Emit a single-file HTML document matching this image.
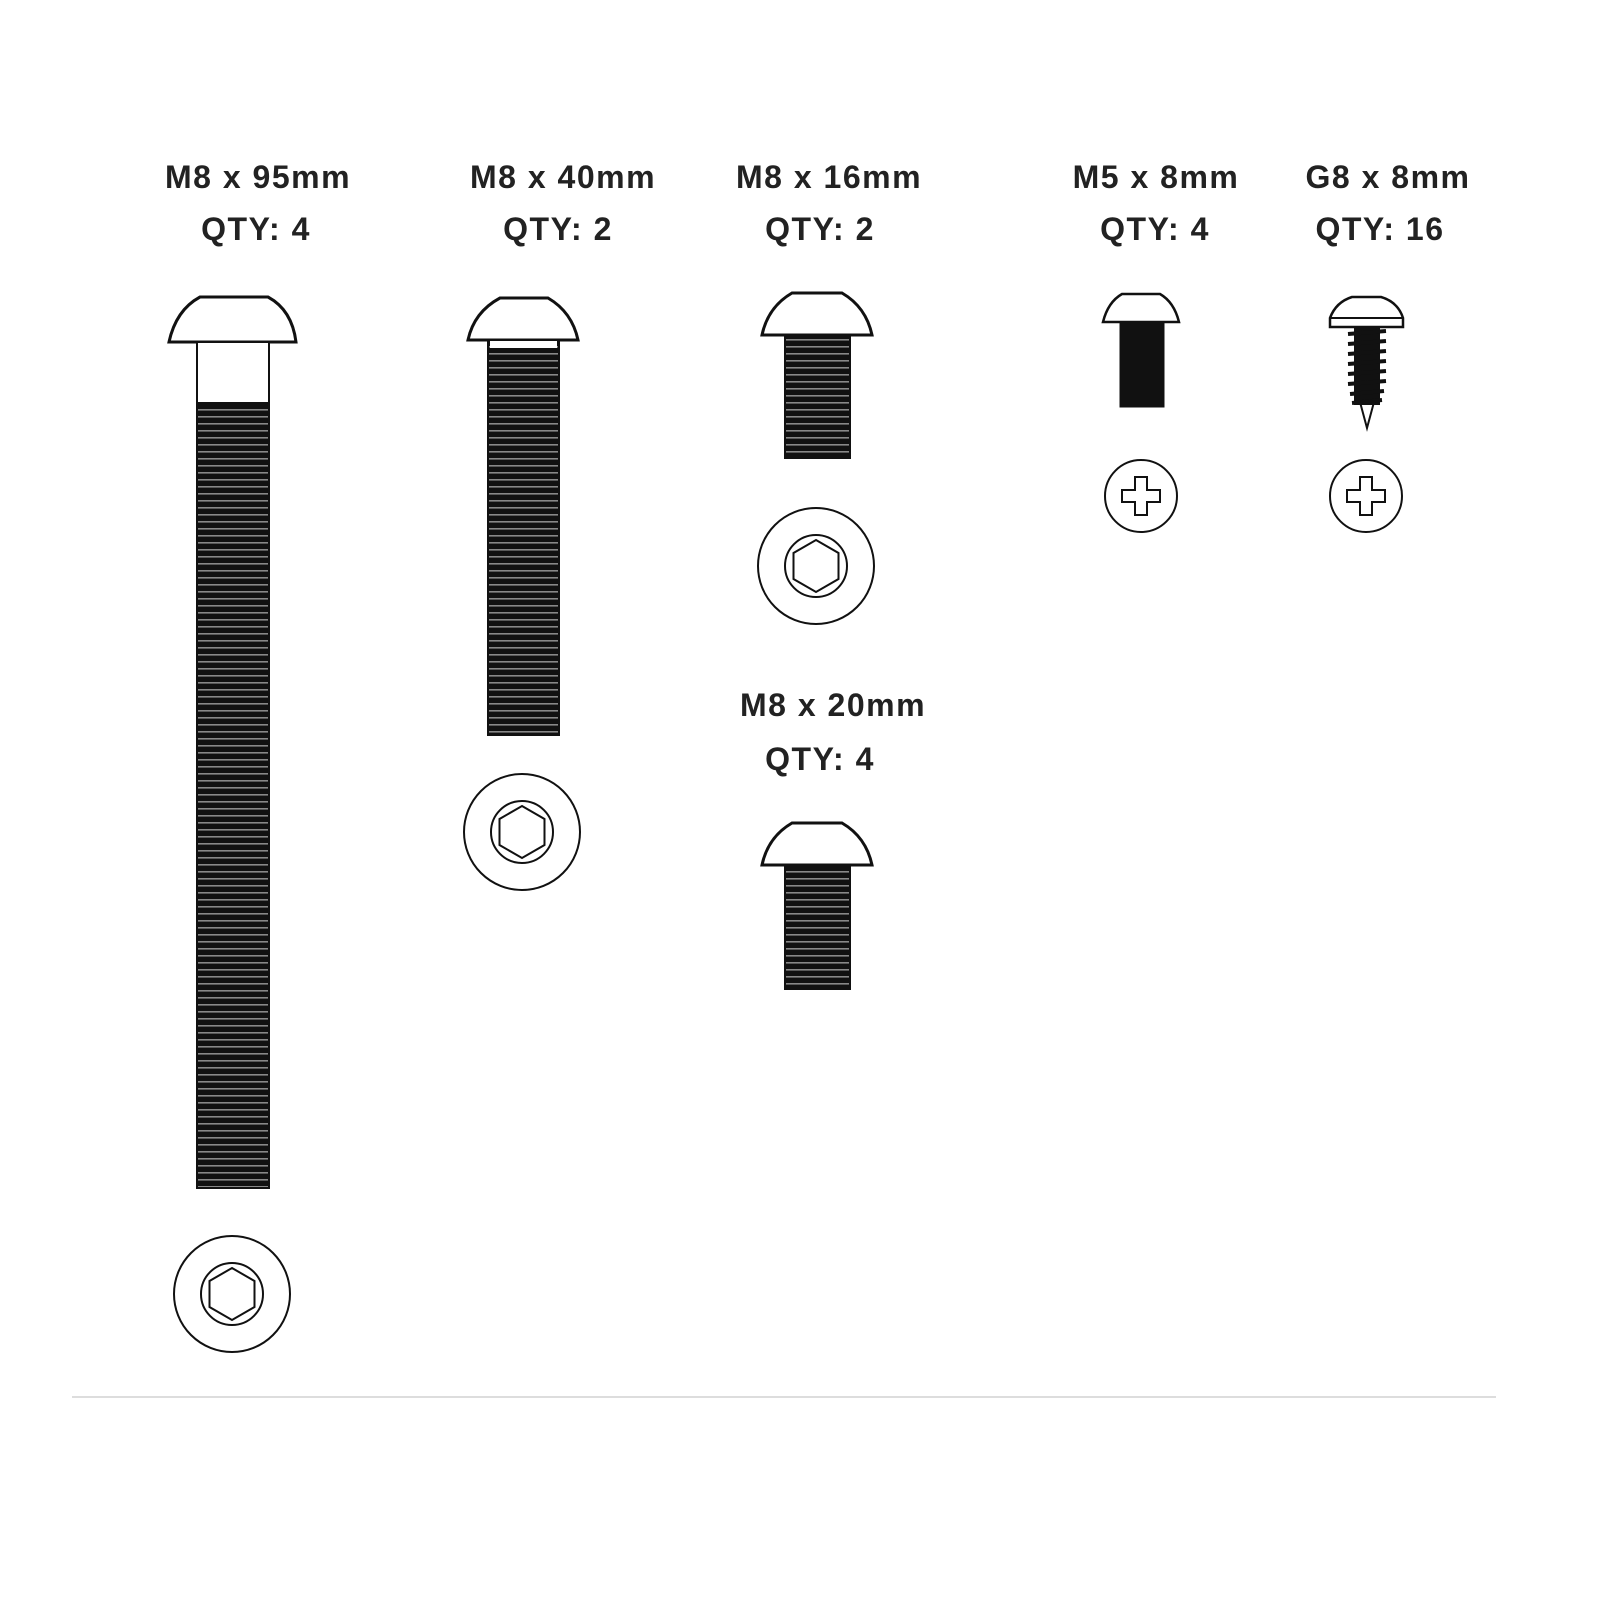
<!DOCTYPE html>
<html><head><meta charset="utf-8"><style>
html,body{margin:0;padding:0;background:#fff;width:1600px;height:1600px;overflow:hidden}
text{font-family:"Liberation Sans",sans-serif;font-weight:bold;font-size:32px;letter-spacing:1.5px;fill:#222;text-anchor:middle}
</style></head><body>
<svg width="1600" height="1600" viewBox="0 0 1600 1600" xmlns="http://www.w3.org/2000/svg">
<defs>
<pattern id="th" width="10" height="7" patternUnits="userSpaceOnUse">
<rect width="10" height="7" fill="#111"/>
<rect y="3" width="10" height="1.6" fill="#888"/>
</pattern>
<g id="hexhead" fill="none" stroke="#111" stroke-width="2">
<circle r="58"/><circle r="31"/>
<polygon points="0,-26 22.5,-13 22.5,13 0,26 -22.5,13 -22.5,-13"/>
</g>
</defs>
<g>
<text x="258" y="188">M8 x 95mm</text><text x="256" y="240">QTY: 4</text>
<text x="563" y="188">M8 x 40mm</text><text x="558" y="240">QTY: 2</text>
<text x="829" y="188">M8 x 16mm</text><text x="820" y="240">QTY: 2</text>
<text x="1156" y="188">M5 x 8mm</text><text x="1155" y="240">QTY: 4</text>
<text x="1388" y="188">G8 x 8mm</text><text x="1380" y="240">QTY: 16</text>
<text x="833" y="716">M8 x 20mm</text><text x="820" y="770">QTY: 4</text>
</g>
<g stroke="#111" stroke-width="3" fill="#fff">
<path d="M169,342 Q176,310 200,297 L268,297 Q292,310 296,342 Z"/>
<rect x="197" y="342" width="72" height="62" stroke-width="2"/>
<rect x="197" y="403" width="72" height="785" fill="url(#th)" stroke-width="2"/>
<path d="M468,340 Q474,312 500,298 L548,298 Q572,312 578,340 Z"/>
<rect x="488" y="340" width="71" height="395" fill="url(#th)" stroke-width="2"/>
<rect x="490" y="341" width="67" height="7" fill="#fff" stroke="none"/>
<path d="M762,335 Q768,307 792,293 L842,293 Q866,307 872,335 Z"/>
<rect x="785" y="335" width="65" height="123" fill="url(#th)" stroke-width="2"/>
<path d="M762,865 Q768,837 792,823 L842,823 Q866,837 872,865 Z"/>
<rect x="785" y="865" width="65" height="124" fill="url(#th)" stroke-width="2"/>
<path d="M1103,322 Q1108,302 1122,294 L1160,294 Q1174,302 1179,322 Z" stroke-width="2.5"/>
<rect x="1120" y="322" width="44" height="85" fill="#111" stroke-width="1"/>
<path d="M1330,318 Q1336,302 1352,297 L1381,297 Q1398,302 1403,318 L1403,327 L1330,327 Z" stroke-width="2.5"/>
<line x1="1330" y1="318" x2="1403" y2="318" stroke-width="2"/>
<path d="M1360,402 L1374,402 L1367,428 Z" stroke-width="2"/>
<rect x="1354" y="327" width="26" height="78" fill="#111" stroke="none"/>
</g>
<g stroke="#111" stroke-width="4">
<line x1="1348" y1="334" x2="1386" y2="331"/><line x1="1348" y1="344" x2="1386" y2="341"/>
<line x1="1348" y1="354" x2="1386" y2="351"/><line x1="1348" y1="364" x2="1386" y2="361"/>
<line x1="1348" y1="374" x2="1386" y2="371"/><line x1="1348" y1="384" x2="1386" y2="381"/>
<line x1="1350" y1="394" x2="1384" y2="391"/><line x1="1352" y1="403" x2="1382" y2="400"/>
</g>
<use href="#hexhead" x="232" y="1294"/>
<use href="#hexhead" x="522" y="832"/>
<use href="#hexhead" x="816" y="566"/>
<g fill="none" stroke="#111" stroke-width="2">
<circle cx="1141" cy="496" r="36"/><circle cx="1366" cy="496" r="36"/>
<path d="M1135,477 h12 v13 h13 v12 h-13 v13 h-12 v-13 h-13 v-12 h13 z"/>
<path d="M1360,477 h12 v13 h13 v12 h-13 v13 h-12 v-13 h-13 v-12 h13 z"/>
</g>
<line x1="72" y1="1397" x2="1496" y2="1397" stroke="#ddd" stroke-width="2"/>
</svg>
</body></html>
